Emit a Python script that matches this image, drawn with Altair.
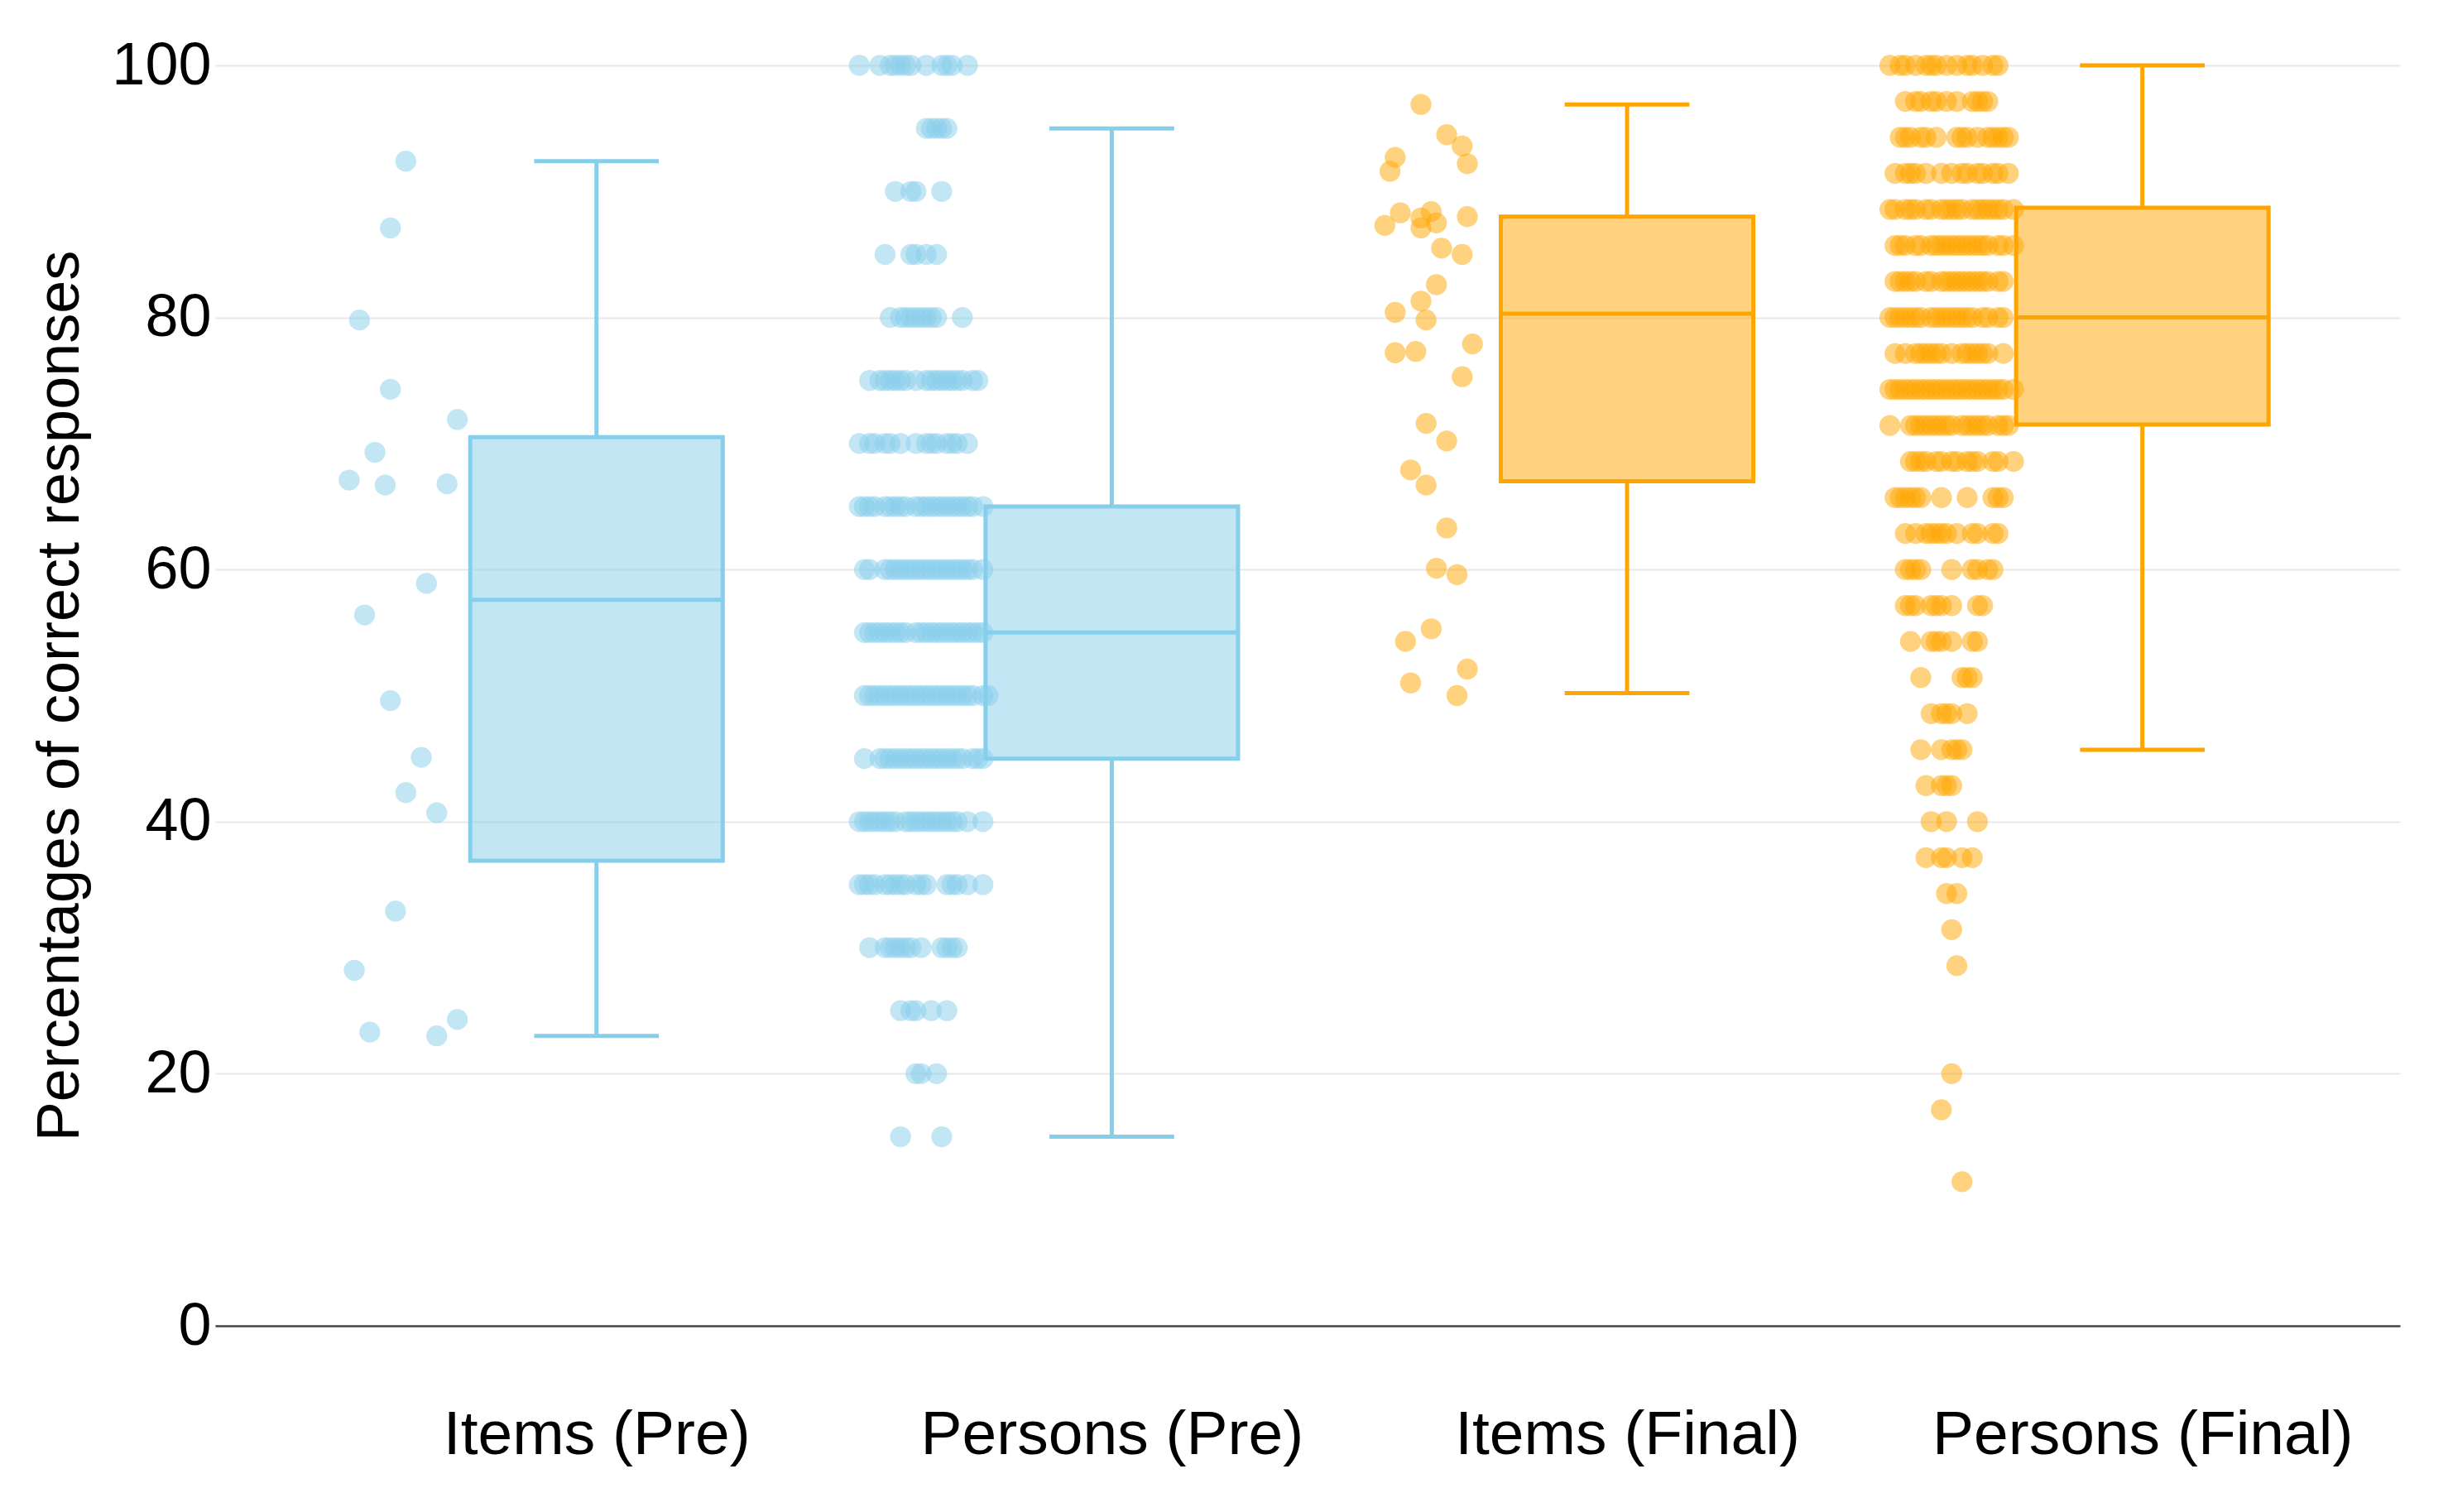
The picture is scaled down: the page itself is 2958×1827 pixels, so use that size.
import altair as alt
import pandas as pd

# ---------------- data ----------------
categories = ["Items (Pre)", "Persons (Pre)", "Items (Final)", "Persons (Final)"]
phase = ["Pre", "Pre", "Final", "Final"]
whisker_low = [23.0, 15.0, 50.2, 45.7]
q1 = [36.9, 45.0, 67.0, 71.5]
median = [57.6, 55.0, 80.3, 80.0]
q3 = [70.5, 65.0, 88.0, 88.7]
whisker_high = [92.4, 95.0, 96.9, 100.0]

# Items (Pre): individual points (value, horizontal jitter in category units)
items_pre_values = [92.4, 87.1, 79.8, 74.3, 71.9, 69.3, 67.1, 66.7, 66.8, 58.9,
                    56.4, 49.6, 45.1, 42.3, 40.7, 32.9, 28.2, 23.3, 24.3, 23.0]
items_pre_jitter = [-0.37, -0.40, -0.46, -0.40, -0.27, -0.43, -0.48, -0.41, -0.29, -0.33,
                    -0.45, -0.40, -0.34, -0.37, -0.31, -0.39, -0.47, -0.44, -0.27, -0.31]

# Items (Final)
items_final_values = [96.9, 94.5, 93.6, 92.7, 92.2, 91.6, 88.3, 87.3, 87.9, 88.4,
                      87.1, 87.5, 88.0, 85.5, 85.0, 82.6, 81.3, 80.4, 79.8, 77.2,
                      77.3, 77.9, 75.3, 71.6, 70.2, 67.9, 66.7, 63.3, 60.1, 59.6,
                      55.3, 54.3, 52.1, 51.0, 50.0]
items_final_jitter = [-0.40, -0.35, -0.32, -0.45, -0.31, -0.46, -0.44, -0.47, -0.40, -0.38,
                      -0.40, -0.37, -0.31, -0.36, -0.32, -0.37, -0.40, -0.45, -0.39, -0.45,
                      -0.41, -0.30, -0.32, -0.39, -0.35, -0.42, -0.39, -0.35, -0.37, -0.33,
                      -0.38, -0.43, -0.31, -0.42, -0.33]

# Persons (Pre): score levels and the jitter of each point on that level
persons_pre_levels = [100, 95, 90, 85, 80, 75, 70, 65, 60, 55, 50, 45, 40, 35, 30, 25, 20, 15]
persons_pre_jitter = [
    [-0.49, -0.45, -0.43, -0.42, -0.41, -0.40, -0.39, -0.36, -0.33, -0.32, -0.31, -0.28],
    [-0.36, -0.35, -0.34, -0.33, -0.32],
    [-0.42, -0.39, -0.38, -0.33],
    [-0.44, -0.39, -0.38, -0.36, -0.34],
    [-0.43, -0.41, -0.40, -0.39, -0.38, -0.37, -0.36, -0.35, -0.34, -0.29],
    [-0.47, -0.45, -0.44, -0.43, -0.42, -0.41, -0.40, -0.38, -0.36, -0.35, -0.34, -0.33,
     -0.32, -0.31, -0.30, -0.29, -0.27, -0.26],
    [-0.49, -0.47, -0.46, -0.44, -0.43, -0.41, -0.38, -0.36, -0.35, -0.34, -0.32, -0.31,
     -0.30, -0.28],
    [-0.49, -0.48, -0.47, -0.46, -0.44, -0.43, -0.42, -0.41, -0.40, -0.38, -0.37, -0.36,
     -0.35, -0.34, -0.33, -0.32, -0.31, -0.30, -0.29, -0.28, -0.27, -0.25],
    [-0.48, -0.47, -0.44, -0.43, -0.42, -0.41, -0.40, -0.39, -0.38, -0.37, -0.36, -0.35,
     -0.34, -0.33, -0.32, -0.31, -0.30, -0.29, -0.28, -0.27, -0.25],
    [-0.48, -0.47, -0.46, -0.45, -0.44, -0.43, -0.42, -0.41, -0.40, -0.38, -0.37, -0.36,
     -0.35, -0.34, -0.33, -0.32, -0.31, -0.30, -0.29, -0.28, -0.27, -0.26, -0.25],
    [-0.48, -0.47, -0.46, -0.45, -0.44, -0.43, -0.42, -0.41, -0.40, -0.39, -0.38, -0.37,
     -0.36, -0.35, -0.34, -0.33, -0.32, -0.31, -0.30, -0.29, -0.28, -0.27, -0.25, -0.24],
    [-0.48, -0.45, -0.44, -0.43, -0.42, -0.41, -0.40, -0.39, -0.38, -0.37, -0.36, -0.35,
     -0.34, -0.33, -0.32, -0.31, -0.30, -0.29, -0.27, -0.26, -0.25],
    [-0.49, -0.48, -0.47, -0.46, -0.45, -0.44, -0.43, -0.42, -0.40, -0.39, -0.38, -0.37,
     -0.36, -0.35, -0.34, -0.33, -0.32, -0.31, -0.30, -0.28, -0.25],
    [-0.49, -0.48, -0.47, -0.46, -0.44, -0.43, -0.42, -0.41, -0.40, -0.38, -0.37, -0.36,
     -0.32, -0.31, -0.30, -0.28, -0.25],
    [-0.47, -0.44, -0.43, -0.42, -0.41, -0.40, -0.39, -0.37, -0.33, -0.32, -0.31, -0.30],
    [-0.41, -0.39, -0.38, -0.35, -0.32],
    [-0.38, -0.37, -0.34],
    [-0.41, -0.33],
]

# Persons (Final)
persons_final_levels = [100, 97.14, 94.29, 91.43, 88.57, 85.71, 82.86, 80, 77.14, 74.29,
                        71.43, 68.57, 65.71, 62.86, 60, 57.14, 54.29, 51.43, 48.57, 45.71,
                        42.86, 40, 37.14, 34.29, 31.43, 28.57, 20, 17.14, 11.43]
persons_final_jitter = [
    [-0.49, -0.47, -0.46, -0.44, -0.42, -0.41, -0.40, -0.38, -0.36, -0.34, -0.33, -0.31,
     -0.29, -0.28],
    [-0.46, -0.44, -0.43, -0.41, -0.40, -0.38, -0.36, -0.33, -0.32, -0.31, -0.30],
    [-0.47, -0.46, -0.45, -0.43, -0.42, -0.40, -0.36, -0.35, -0.34, -0.32, -0.30, -0.29,
     -0.28, -0.27, -0.26],
    [-0.48, -0.46, -0.45, -0.44, -0.42, -0.39, -0.37, -0.35, -0.34, -0.32, -0.31, -0.29,
     -0.28, -0.26],
    [-0.49, -0.48, -0.46, -0.45, -0.44, -0.42, -0.41, -0.39, -0.38, -0.37, -0.36, -0.35,
     -0.33, -0.32, -0.31, -0.30, -0.29, -0.28, -0.27, -0.25],
    [-0.48, -0.47, -0.46, -0.44, -0.43, -0.41, -0.40, -0.39, -0.38, -0.37, -0.36, -0.35,
     -0.34, -0.33, -0.32, -0.31, -0.30, -0.28, -0.27, -0.25],
    [-0.48, -0.47, -0.46, -0.45, -0.44, -0.42, -0.41, -0.39, -0.38, -0.37, -0.36, -0.35,
     -0.34, -0.33, -0.32, -0.31, -0.30, -0.28, -0.27],
    [-0.49, -0.48, -0.47, -0.46, -0.45, -0.44, -0.43, -0.41, -0.40, -0.39, -0.38, -0.37,
     -0.36, -0.35, -0.34, -0.33, -0.31, -0.30, -0.28, -0.27],
    [-0.48, -0.46, -0.44, -0.43, -0.42, -0.41, -0.40, -0.39, -0.37, -0.35, -0.34, -0.33,
     -0.32, -0.31, -0.30, -0.27],
    [-0.49, -0.48, -0.47, -0.46, -0.45, -0.44, -0.43, -0.42, -0.41, -0.40, -0.39, -0.38,
     -0.37, -0.36, -0.35, -0.34, -0.33, -0.32, -0.31, -0.30, -0.29, -0.28, -0.27, -0.25],
    [-0.49, -0.45, -0.44, -0.43, -0.42, -0.41, -0.40, -0.39, -0.38, -0.37, -0.35, -0.34,
     -0.33, -0.32, -0.31, -0.30, -0.28, -0.27, -0.26],
    [-0.45, -0.44, -0.43, -0.42, -0.40, -0.39, -0.37, -0.36, -0.34, -0.33, -0.32, -0.29,
     -0.28, -0.25],
    [-0.48, -0.47, -0.46, -0.45, -0.44, -0.43, -0.39, -0.34, -0.29, -0.28, -0.27],
    [-0.46, -0.44, -0.42, -0.41, -0.40, -0.39, -0.38, -0.36, -0.33, -0.32, -0.29, -0.28],
    [-0.46, -0.45, -0.44, -0.43, -0.37, -0.33, -0.32, -0.30, -0.29],
    [-0.46, -0.45, -0.44, -0.41, -0.40, -0.39, -0.37, -0.32, -0.31],
    [-0.45, -0.41, -0.40, -0.39, -0.37, -0.33, -0.32],
    [-0.43, -0.35, -0.34, -0.33],
    [-0.41, -0.39, -0.38, -0.37, -0.34],
    [-0.43, -0.39, -0.37, -0.36, -0.35],
    [-0.42, -0.39, -0.38, -0.37],
    [-0.41, -0.38, -0.32],
    [-0.42, -0.39, -0.38, -0.35, -0.33],
    [-0.38, -0.36],
    [-0.37],
    [-0.36],
    [-0.37],
    [-0.39],
    [-0.35],
]

# ---------------- tables ----------------
rows = []
for v, j in zip(items_pre_values, items_pre_jitter):
    rows.append({"pos": 1, "value": v, "jitter": j, "phase": "Pre"})
for lvl, js in zip(persons_pre_levels, persons_pre_jitter):
    for j in js:
        rows.append({"pos": 2, "value": lvl, "jitter": j, "phase": "Pre"})
for v, j in zip(items_final_values, items_final_jitter):
    rows.append({"pos": 3, "value": v, "jitter": j, "phase": "Final"})
for lvl, js in zip(persons_final_levels, persons_final_jitter):
    for j in js:
        rows.append({"pos": 4, "value": lvl, "jitter": j, "phase": "Final"})
points_df = pd.DataFrame(rows)

box_df = pd.DataFrame({
    "pos": [1, 2, 3, 4],
    "category": categories,
    "phase": phase,
    "lo": whisker_low,
    "q1": q1,
    "median": median,
    "q3": q3,
    "hi": whisker_high,
})

FONT = "Liberation Sans"
color_scale = alt.Scale(domain=["Pre", "Final"], range=["#87CEEB", "#FFA500"])
label_expr = "[" + ",".join("'" + c + "'" for c in categories) + "][round(datum.value) - 1]"

x_scale = alt.Scale(domain=[0.26, 4.5], nice=False, zero=False)
y_scale = alt.Scale(domain=[0, 100], nice=False)


def x_axis():
    return alt.Axis(values=[1, 2, 3, 4], labelExpr=label_expr, title=None, grid=False,
                    ticks=False, domain=True, domainColor="#444444", domainWidth=2.5,
                    labelFontSize=75, labelFont=FONT, labelColor="#000000", labelLimit=0,
                    labelPadding=95, labelBaseline="top")


def y_axis():
    return alt.Axis(values=[0, 20, 40, 60, 80, 100], title="Percentages of correct responses",
                    domain=False, ticks=False, grid=True, gridColor="#e8e8e8", gridWidth=2,
                    labelFontSize=72, labelFont=FONT, labelColor="#000000", labelPadding=5,
                    titleFontSize=72, titleFont=FONT, titleFontWeight="normal",
                    titleColor="#000000", titlePadding=25)


def cx(field):
    return alt.X(field, scale=x_scale, axis=x_axis())


def cy(field):
    return alt.Y(field, scale=y_scale, axis=y_axis())


col = alt.Color("phase:N", scale=color_scale, legend=None)

points = alt.Chart(points_df).transform_calculate(
    xp="datum.pos + datum.jitter"
).mark_circle(size=640, opacity=0.5).encode(
    x=cx("xp:Q"), y=cy("value:Q"), color=col,
)

base = alt.Chart(box_df).transform_calculate(
    bl="datum.pos - 0.245", br="datum.pos + 0.245",
    cl="datum.pos - 0.121", cr="datum.pos + 0.121",
)

boxes = base.mark_rect(fillOpacity=0.5, strokeWidth=5).encode(
    x=cx("bl:Q"), x2="br:Q", y=cy("q1:Q"), y2="q3:Q", fill=col, stroke=col,
)
medians = base.mark_rule(strokeWidth=5).encode(
    x=cx("bl:Q"), x2="br:Q", y=cy("median:Q"), color=col,
)
upper = base.mark_rule(strokeWidth=5).encode(
    x=cx("pos:Q"), y=cy("q3:Q"), y2="hi:Q", color=col,
)
lower = base.mark_rule(strokeWidth=5).encode(
    x=cx("pos:Q"), y=cy("lo:Q"), y2="q1:Q", color=col,
)
cap_hi = base.mark_rule(strokeWidth=5).encode(
    x=cx("cl:Q"), x2="cr:Q", y=cy("hi:Q"), color=col,
)
cap_lo = base.mark_rule(strokeWidth=5).encode(
    x=cx("cl:Q"), x2="cr:Q", y=cy("lo:Q"), color=col,
)

chart = alt.layer(points, upper, lower, cap_hi, cap_lo, boxes, medians).properties(
    width=2640, height=1523,
    background="white",
    autosize=alt.AutoSizeParams(type="none"),
    padding={"left": 252, "top": 71, "right": 40, "bottom": 200},
).configure_view(strokeWidth=0).configure_axisX(grid=False)

chart.save("out.html", embed_options={"renderer": "svg", "actions": False})
